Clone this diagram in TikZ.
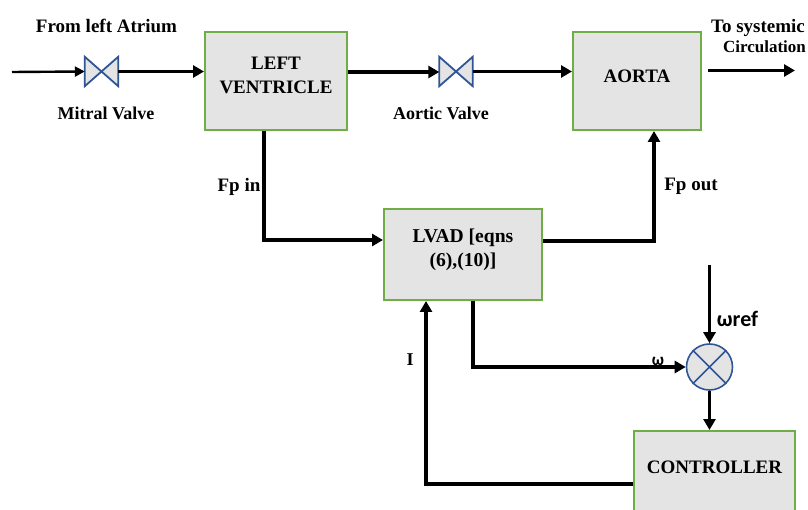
\documentclass[tikz,border=0pt]{standalone}
\usepackage{fontspec}
\setmainfont{Liberation Serif}
\newfontfamily\calib{Carlito}
\usetikzlibrary{arrows.meta,calc}
\definecolor{boxfill}{HTML}{E4E4E4}
\definecolor{boxedge}{HTML}{70AD47}
\definecolor{valveedge}{HTML}{2F5597}
\newcommand{\liftby}[2]{\raisebox{0pt}[\height][\dimexpr\depth+#1\relax]{#2}}
\tikzset{
  x=1pt,y=-1pt,
  block/.style={draw=boxedge,fill=boxfill,line width=2pt,inner sep=0pt,align=center,font=\bfseries\fontsize{19}{24}\selectfont},
  lbl/.style={inner sep=0pt,align=center,font=\bfseries\fontsize{18}{21}\selectfont},
  flow/.style={line width=3.8pt,-{Triangle[length=11pt,width=12pt]}},
  flowthin/.style={line width=2.4pt,-{Triangle[length=10pt,width=10pt]}},
  valve/.style={minimum width=33pt,minimum height=29pt,inner sep=0pt},
  sumnode/.style={circle,draw=valveedge,fill=boxfill,line width=1.6pt,minimum size=46pt,inner sep=0pt},
}
\newcommand{\valveoutline}[1]{\draw[valveedge,fill=boxfill,line width=1.8pt,line join=miter] (#1.north west)--(#1.south east)--(#1.north east)--(#1.south west)--cycle;}
\begin{document}
\begin{tikzpicture}
\useasboundingbox (0,0) rectangle (808,510);
\clip (0,0) rectangle (808,510);
\node[block,minimum width=142pt,minimum height=98pt] (lv) at (276,81) {\liftby{9pt}{\begin{tabular}{@{}c@{}}LEFT\\[0.5pt]VENTRICLE\end{tabular}}};
\node[block,minimum width=128pt,minimum height=98pt] (ao) at (637,81) {\liftby{10pt}{AORTA}};
\node[block,minimum width=158pt,minimum height=91pt,font=\bfseries\fontsize{19.600}{24}\selectfont] (lvad) at (463,254.500) {\liftby{10pt}{\begin{tabular}{@{}c@{}}LVAD [eqns\\[0.5pt](6),(10)]\end{tabular}}};
\node[block,minimum width=161pt,minimum height=90pt] (ctrl) at (714.500,476) {\liftby{18pt}{CONTROLLER}};
\node[valve] (mv) at (101.500,71.500) {};
\node[valve] (av) at (456,71.500) {};
\node[sumnode] (sum) at (709.500,367) {};
\valveoutline{mv}
\valveoutline{av}
\draw[valveedge,line width=1.6pt] (sum.45)--(sum.225) (sum.135)--(sum.315);
% free ends
\coordinate (inl) at (12,72);
\coordinate (outs) at (708,70.500);
\coordinate (oute) at (795,70.500);
\coordinate (reft) at (709.500,265);
% connectors
\draw[flowthin] (inl) -- (mv.west);
\draw[flow] (mv.east) -- (lv.west |- mv.east);
\draw[flow] ($(lv.east)+(0,-9)$) -- ($(av.west)+(0,0.500)$);
\draw[flow] (av.east) -- (ao.west |- av.east);
\draw[flow] (outs) -- (oute);
\coordinate (a1) at (264,240);
\coordinate (a2) at (654,241);
\coordinate (a3) at (473,367);
\coordinate (a4) at (426,484);
\draw[flow] (a1 |- lv.south) -- (a1) -- (a1 -| lvad.west);
\draw[flow] (a2 -| lvad.east) -- (a2) -- (a2 |- ao.south);
\draw[flow] (a3 |- lvad.south) -- (a3) -- (sum.west);
\draw[flow] (reft) -- (sum.north);
\draw[flow] (sum.south) -- (sum.south |- ctrl.north);
\draw[flow] (a4 -| ctrl.west) -- (a4) -- (a4 |- lvad.south);
% labels
\node[lbl,font=\bfseries\fontsize{19}{21}\selectfont] (t1) at (106.500,26) {From left Atrium};
\node[lbl] (t2) at (106,113.500) {Mitral Valve};
\node[lbl] (t3) at (441,113.500) {Aortic Valve};
\node[lbl,font=\bfseries\fontsize{19}{21}\selectfont] (t4) at (758,28) {To systemic};
\node[lbl,font=\bfseries\fontsize{17}{20}\selectfont] (t5) at (764.500,47) {Circulation};
\node[lbl,font=\bfseries\fontsize{19}{21}\selectfont] (t6) at (239,186.500) {Fp in};
\node[lbl,font=\bfseries\fontsize{19}{21}\selectfont] (t7) at (691,186.500) {Fp out};
\node[lbl] (t8) at (410,360) {I};
\node[inner sep=0pt,font=\calib\bfseries\fontsize{17}{20}\selectfont] (t9) at (658,361) {ω};
\node[inner sep=0pt,font=\calib\bfseries\fontsize{22}{24}\selectfont] (t10) at (737.500,319) {ωref};
\end{tikzpicture}
\end{document}
